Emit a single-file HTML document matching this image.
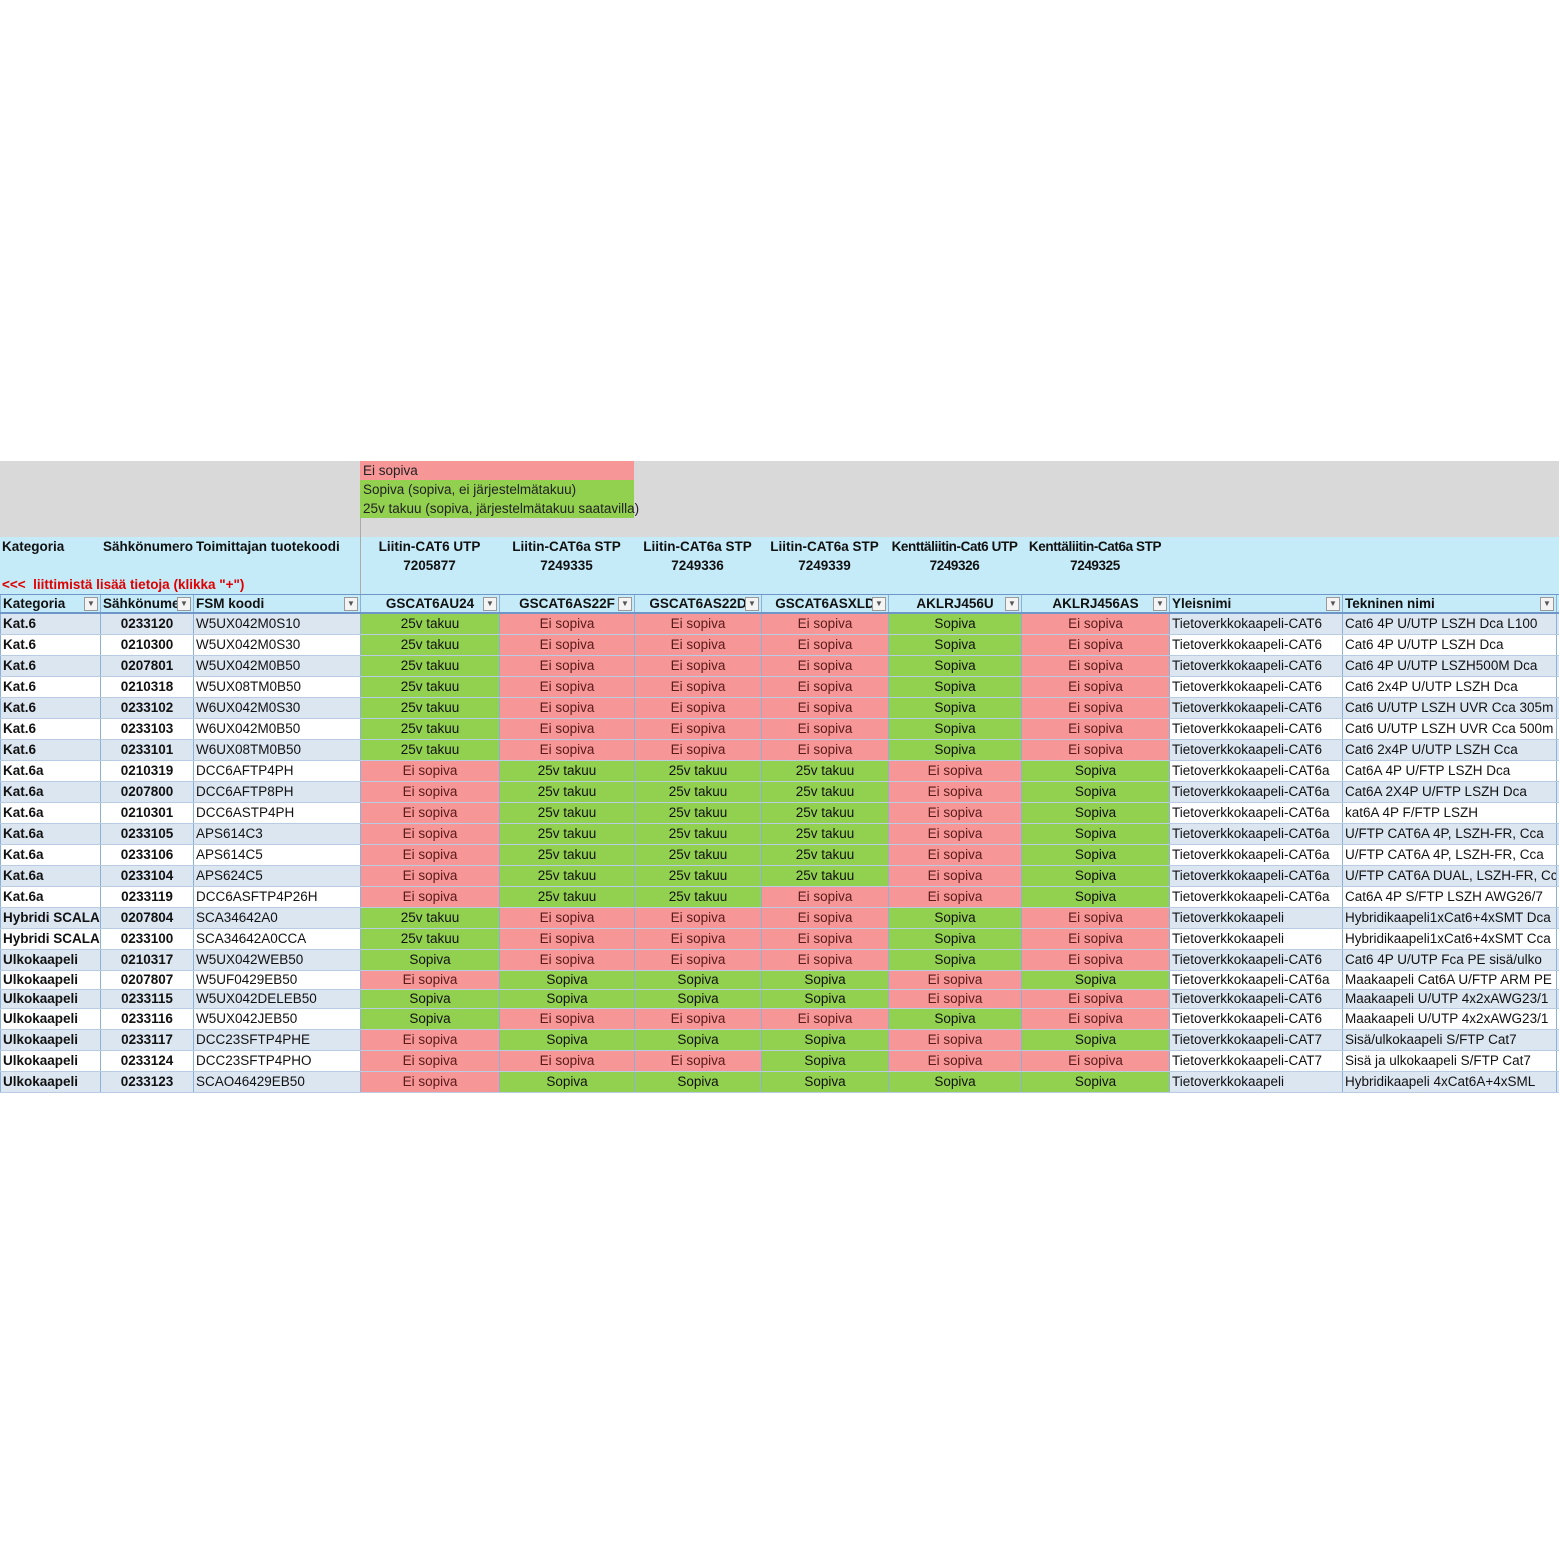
<!DOCTYPE html>
<html><head><meta charset="utf-8"><style>
body{margin:0;width:1559px;height:1559px;background:#fff;position:relative;overflow:hidden;font-family:"Liberation Sans",Arial,sans-serif;}
.gray{position:absolute;left:0;top:461px;width:1559px;height:76px;background:#d9d9d9;}
.lblue{position:absolute;left:0;top:537px;width:1559px;height:57px;background:#c5eaf8;}
.leg{position:absolute;left:360px;height:19px;font-size:13.5px;line-height:19px;padding-left:3px;color:#222;white-space:nowrap;}
.h{position:absolute;font-size:13.5px;font-weight:bold;color:#111;text-align:center;line-height:19px;white-space:nowrap;}
table{position:absolute;left:0;top:594px;width:1566px;border-collapse:collapse;table-layout:fixed;font-size:13.5px;color:#111;}
td{height:20px;padding:0 2px;white-space:nowrap;overflow:hidden;border-left:1px solid #8db0d8;border-bottom:1px solid #b8cce4;line-height:20px;}
tr.hd td{height:17px;line-height:17px;font-weight:bold;background:#c5eaf8;border-top:1px solid #6f96c8;border-bottom:2px solid #6f96c8;position:relative;}
tr.b td{background:#dce6f1}
tr.w td{background:#fff}
td.k,td.n{font-weight:bold}
td.n{text-align:center}
td.c{text-align:center}
td.E{background:#f79696!important;color:#5a1a1a}
td.T,td.S{background:#92d050!important}
tr.s td{height:18px;line-height:18px}
.dd{position:absolute;right:2px;top:2px;width:12px;height:12px;border:1px solid #999;background:#f4f4f4;font-size:8px;line-height:12px;text-align:center;color:#555}
</style></head><body>
<div class="gray"></div>
<div class="lblue"></div>
<div style="position:absolute;left:360px;top:461px;width:1px;height:133px;background:#aaa"></div>
<div class="leg" style="top:461px;width:271px;background:#f79696">Ei sopiva</div>
<div class="leg" style="top:480px;width:271px;background:#92d050">Sopiva (sopiva, ei järjestelmätakuu)</div>
<div class="leg" style="top:499px;width:271px;background:#92d050">25v takuu (sopiva, järjestelmätakuu saatavilla)</div>
<div class="h" style="left:2px;top:537px;text-align:left">Kategoria</div>
<div class="h" style="left:103px;top:537px;text-align:left">Sähkönumero</div>
<div class="h" style="left:196px;top:537px;text-align:left">Toimittajan tuotekoodi</div>
<div class="h" style="left:2px;top:575px;text-align:left;color:#e00000">&lt;&lt;&lt;&nbsp; liittimistä lisää tietoja (klikka "+")</div>
<div class="h" style="left:360px;top:537px;width:139px">Liitin-CAT6 UTP<br>7205877</div>
<div class="h" style="left:499px;top:537px;width:135px">Liitin-CAT6a STP<br>7249335</div>
<div class="h" style="left:634px;top:537px;width:127px">Liitin-CAT6a STP<br>7249336</div>
<div class="h" style="left:761px;top:537px;width:127px">Liitin-CAT6a STP<br>7249339</div>
<div class="h" style="left:888px;top:537px;width:133px;letter-spacing:-0.4px">Kenttäliitin-Cat6 UTP<br>7249326</div>
<div class="h" style="left:1021px;top:537px;width:148px;letter-spacing:-0.4px">Kenttäliitin-Cat6a STP<br>7249325</div>
<table>
<colgroup><col style="width:100px"><col style="width:93px"><col style="width:167px"><col style="width:139px"><col style="width:135px"><col style="width:127px"><col style="width:127px"><col style="width:133px"><col style="width:148px"><col style="width:173px"><col style="width:214px"><col style="width:10px"></colgroup>
<tr class="hd"><td>Kategoria<span class="dd">▼</span></td><td>Sähkönume<span class="dd">▼</span></td><td>FSM koodi<span class="dd">▼</span></td><td class="c">GSCAT6AU24<span class="dd">▼</span></td><td class="c">GSCAT6AS22F<span class="dd">▼</span></td><td class="c">GSCAT6AS22D<span class="dd">▼</span></td><td class="c">GSCAT6ASXLD<span class="dd">▼</span></td><td class="c">AKLRJ456U<span class="dd">▼</span></td><td class="c">AKLRJ456AS<span class="dd">▼</span></td><td>Yleisnimi<span class="dd">▼</span></td><td>Tekninen nimi<span class="dd">▼</span></td><td></td></tr>
<tr class="b"><td class="k">Kat.6</td><td class="n">0233120</td><td>W5UX042M0S10</td><td class="c T">25v takuu</td><td class="c E">Ei sopiva</td><td class="c E">Ei sopiva</td><td class="c E">Ei sopiva</td><td class="c S">Sopiva</td><td class="c E">Ei sopiva</td><td>Tietoverkkokaapeli-CAT6</td><td>Cat6 4P U/UTP LSZH Dca L100</td><td></td></tr>
<tr class="w"><td class="k">Kat.6</td><td class="n">0210300</td><td>W5UX042M0S30</td><td class="c T">25v takuu</td><td class="c E">Ei sopiva</td><td class="c E">Ei sopiva</td><td class="c E">Ei sopiva</td><td class="c S">Sopiva</td><td class="c E">Ei sopiva</td><td>Tietoverkkokaapeli-CAT6</td><td>Cat6 4P U/UTP LSZH Dca</td><td></td></tr>
<tr class="b"><td class="k">Kat.6</td><td class="n">0207801</td><td>W5UX042M0B50</td><td class="c T">25v takuu</td><td class="c E">Ei sopiva</td><td class="c E">Ei sopiva</td><td class="c E">Ei sopiva</td><td class="c S">Sopiva</td><td class="c E">Ei sopiva</td><td>Tietoverkkokaapeli-CAT6</td><td>Cat6 4P U/UTP LSZH500M Dca</td><td></td></tr>
<tr class="w"><td class="k">Kat.6</td><td class="n">0210318</td><td>W5UX08TM0B50</td><td class="c T">25v takuu</td><td class="c E">Ei sopiva</td><td class="c E">Ei sopiva</td><td class="c E">Ei sopiva</td><td class="c S">Sopiva</td><td class="c E">Ei sopiva</td><td>Tietoverkkokaapeli-CAT6</td><td>Cat6 2x4P U/UTP LSZH Dca</td><td></td></tr>
<tr class="b"><td class="k">Kat.6</td><td class="n">0233102</td><td>W6UX042M0S30</td><td class="c T">25v takuu</td><td class="c E">Ei sopiva</td><td class="c E">Ei sopiva</td><td class="c E">Ei sopiva</td><td class="c S">Sopiva</td><td class="c E">Ei sopiva</td><td>Tietoverkkokaapeli-CAT6</td><td>Cat6 U/UTP LSZH UVR Cca 305m</td><td></td></tr>
<tr class="w"><td class="k">Kat.6</td><td class="n">0233103</td><td>W6UX042M0B50</td><td class="c T">25v takuu</td><td class="c E">Ei sopiva</td><td class="c E">Ei sopiva</td><td class="c E">Ei sopiva</td><td class="c S">Sopiva</td><td class="c E">Ei sopiva</td><td>Tietoverkkokaapeli-CAT6</td><td>Cat6 U/UTP LSZH UVR Cca 500m</td><td></td></tr>
<tr class="b"><td class="k">Kat.6</td><td class="n">0233101</td><td>W6UX08TM0B50</td><td class="c T">25v takuu</td><td class="c E">Ei sopiva</td><td class="c E">Ei sopiva</td><td class="c E">Ei sopiva</td><td class="c S">Sopiva</td><td class="c E">Ei sopiva</td><td>Tietoverkkokaapeli-CAT6</td><td>Cat6 2x4P U/UTP LSZH Cca</td><td></td></tr>
<tr class="w"><td class="k">Kat.6a</td><td class="n">0210319</td><td>DCC6AFTP4PH</td><td class="c E">Ei sopiva</td><td class="c T">25v takuu</td><td class="c T">25v takuu</td><td class="c T">25v takuu</td><td class="c E">Ei sopiva</td><td class="c S">Sopiva</td><td>Tietoverkkokaapeli-CAT6a</td><td>Cat6A 4P U/FTP LSZH Dca</td><td></td></tr>
<tr class="b"><td class="k">Kat.6a</td><td class="n">0207800</td><td>DCC6AFTP8PH</td><td class="c E">Ei sopiva</td><td class="c T">25v takuu</td><td class="c T">25v takuu</td><td class="c T">25v takuu</td><td class="c E">Ei sopiva</td><td class="c S">Sopiva</td><td>Tietoverkkokaapeli-CAT6a</td><td>Cat6A 2X4P U/FTP LSZH Dca</td><td></td></tr>
<tr class="w"><td class="k">Kat.6a</td><td class="n">0210301</td><td>DCC6ASTP4PH</td><td class="c E">Ei sopiva</td><td class="c T">25v takuu</td><td class="c T">25v takuu</td><td class="c T">25v takuu</td><td class="c E">Ei sopiva</td><td class="c S">Sopiva</td><td>Tietoverkkokaapeli-CAT6a</td><td>kat6A 4P F/FTP LSZH</td><td></td></tr>
<tr class="b"><td class="k">Kat.6a</td><td class="n">0233105</td><td>APS614C3</td><td class="c E">Ei sopiva</td><td class="c T">25v takuu</td><td class="c T">25v takuu</td><td class="c T">25v takuu</td><td class="c E">Ei sopiva</td><td class="c S">Sopiva</td><td>Tietoverkkokaapeli-CAT6a</td><td>U/FTP CAT6A 4P, LSZH-FR, Cca</td><td></td></tr>
<tr class="w"><td class="k">Kat.6a</td><td class="n">0233106</td><td>APS614C5</td><td class="c E">Ei sopiva</td><td class="c T">25v takuu</td><td class="c T">25v takuu</td><td class="c T">25v takuu</td><td class="c E">Ei sopiva</td><td class="c S">Sopiva</td><td>Tietoverkkokaapeli-CAT6a</td><td>U/FTP CAT6A 4P, LSZH-FR, Cca</td><td></td></tr>
<tr class="b"><td class="k">Kat.6a</td><td class="n">0233104</td><td>APS624C5</td><td class="c E">Ei sopiva</td><td class="c T">25v takuu</td><td class="c T">25v takuu</td><td class="c T">25v takuu</td><td class="c E">Ei sopiva</td><td class="c S">Sopiva</td><td>Tietoverkkokaapeli-CAT6a</td><td>U/FTP CAT6A DUAL, LSZH-FR, Cca</td><td></td></tr>
<tr class="w"><td class="k">Kat.6a</td><td class="n">0233119</td><td>DCC6ASFTP4P26H</td><td class="c E">Ei sopiva</td><td class="c T">25v takuu</td><td class="c T">25v takuu</td><td class="c E">Ei sopiva</td><td class="c E">Ei sopiva</td><td class="c S">Sopiva</td><td>Tietoverkkokaapeli-CAT6a</td><td>Cat6A 4P S/FTP LSZH AWG26/7</td><td></td></tr>
<tr class="b"><td class="k">Hybridi SCALA</td><td class="n">0207804</td><td>SCA34642A0</td><td class="c T">25v takuu</td><td class="c E">Ei sopiva</td><td class="c E">Ei sopiva</td><td class="c E">Ei sopiva</td><td class="c S">Sopiva</td><td class="c E">Ei sopiva</td><td>Tietoverkkokaapeli</td><td>Hybridikaapeli1xCat6+4xSMT Dca</td><td></td></tr>
<tr class="w"><td class="k">Hybridi SCALA</td><td class="n">0233100</td><td>SCA34642A0CCA</td><td class="c T">25v takuu</td><td class="c E">Ei sopiva</td><td class="c E">Ei sopiva</td><td class="c E">Ei sopiva</td><td class="c S">Sopiva</td><td class="c E">Ei sopiva</td><td>Tietoverkkokaapeli</td><td>Hybridikaapeli1xCat6+4xSMT Cca</td><td></td></tr>
<tr class="b"><td class="k">Ulkokaapeli</td><td class="n">0210317</td><td>W5UX042WEB50</td><td class="c S">Sopiva</td><td class="c E">Ei sopiva</td><td class="c E">Ei sopiva</td><td class="c E">Ei sopiva</td><td class="c S">Sopiva</td><td class="c E">Ei sopiva</td><td>Tietoverkkokaapeli-CAT6</td><td>Cat6 4P U/UTP Fca PE sisä/ulko</td><td></td></tr>
<tr class="w s"><td class="k">Ulkokaapeli</td><td class="n">0207807</td><td>W5UF0429EB50</td><td class="c E">Ei sopiva</td><td class="c S">Sopiva</td><td class="c S">Sopiva</td><td class="c S">Sopiva</td><td class="c E">Ei sopiva</td><td class="c S">Sopiva</td><td>Tietoverkkokaapeli-CAT6a</td><td>Maakaapeli Cat6A U/FTP ARM PE</td><td></td></tr>
<tr class="b s"><td class="k">Ulkokaapeli</td><td class="n">0233115</td><td>W5UX042DELEB50</td><td class="c S">Sopiva</td><td class="c S">Sopiva</td><td class="c S">Sopiva</td><td class="c S">Sopiva</td><td class="c E">Ei sopiva</td><td class="c E">Ei sopiva</td><td>Tietoverkkokaapeli-CAT6</td><td>Maakaapeli U/UTP 4x2xAWG23/1</td><td></td></tr>
<tr class="w"><td class="k">Ulkokaapeli</td><td class="n">0233116</td><td>W5UX042JEB50</td><td class="c S">Sopiva</td><td class="c E">Ei sopiva</td><td class="c E">Ei sopiva</td><td class="c E">Ei sopiva</td><td class="c S">Sopiva</td><td class="c E">Ei sopiva</td><td>Tietoverkkokaapeli-CAT6</td><td>Maakaapeli U/UTP 4x2xAWG23/1</td><td></td></tr>
<tr class="b"><td class="k">Ulkokaapeli</td><td class="n">0233117</td><td>DCC23SFTP4PHE</td><td class="c E">Ei sopiva</td><td class="c S">Sopiva</td><td class="c S">Sopiva</td><td class="c S">Sopiva</td><td class="c E">Ei sopiva</td><td class="c S">Sopiva</td><td>Tietoverkkokaapeli-CAT7</td><td>Sisä/ulkokaapeli S/FTP Cat7</td><td></td></tr>
<tr class="w"><td class="k">Ulkokaapeli</td><td class="n">0233124</td><td>DCC23SFTP4PHO</td><td class="c E">Ei sopiva</td><td class="c E">Ei sopiva</td><td class="c E">Ei sopiva</td><td class="c S">Sopiva</td><td class="c E">Ei sopiva</td><td class="c E">Ei sopiva</td><td>Tietoverkkokaapeli-CAT7</td><td>Sisä ja ulkokaapeli S/FTP Cat7</td><td></td></tr>
<tr class="b"><td class="k">Ulkokaapeli</td><td class="n">0233123</td><td>SCAO46429EB50</td><td class="c E">Ei sopiva</td><td class="c S">Sopiva</td><td class="c S">Sopiva</td><td class="c S">Sopiva</td><td class="c S">Sopiva</td><td class="c S">Sopiva</td><td>Tietoverkkokaapeli</td><td>Hybridikaapeli 4xCat6A+4xSML</td><td></td></tr>
</table>
</body></html>
